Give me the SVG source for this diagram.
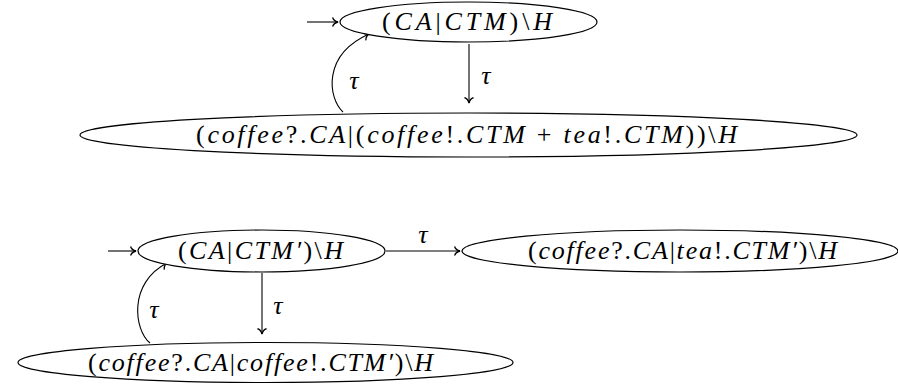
<svg xmlns="http://www.w3.org/2000/svg" width="898" height="385" viewBox="0 0 898 385">
<style>
.node ellipse{fill:#fff;stroke:#000;stroke-width:1.2}
.lbl{font-size:26px;fill:#000}
.i{font-style:italic}
.tau{font-size:26px;font-style:italic;fill:#000}
.edges path,.edges line{fill:none;stroke:#000;stroke-width:1.1}
</style>
<defs>
<marker id="to" markerUnits="userSpaceOnUse" markerWidth="12" markerHeight="12" viewBox="-6 -5 8 10" refX="0" refY="0" orient="auto">
<path d="M-4.5,-3.8 C-3.8,-1.6 -1.2,-0.3 0,0 C-1.2,0.3 -3.8,1.6 -4.5,3.8" fill="none" stroke="#000" stroke-width="1.1"/>
</marker>
</defs>
<g class="edges">
<line x1="307" y1="22" x2="338" y2="22" marker-end="url(#to)"/>
<line x1="469" y1="44" x2="469" y2="103" marker-end="url(#to)"/>
<path d="M343,112 C328,98 322,55 369,34" marker-end="url(#to)"/>
<line x1="108" y1="251" x2="136" y2="251" marker-end="url(#to)"/>
<line x1="386" y1="251" x2="460" y2="251" marker-end="url(#to)"/>
<line x1="262" y1="273" x2="262" y2="334" marker-end="url(#to)"/>
<path d="M150,343 C134,330 128,283 167,263" marker-end="url(#to)"/>
</g>
<g class="tau" font-family="'Liberation Serif', 'DejaVu Serif', serif">
<text x="486" y="84" text-anchor="middle">τ</text>
<text x="354" y="89" text-anchor="middle">τ</text>
<text x="423" y="243" text-anchor="middle">τ</text>
<text x="278" y="314" text-anchor="middle">τ</text>
<text x="154" y="318" text-anchor="middle">τ</text>
</g>
<g id="n1" class="node">
<ellipse cx="468.5" cy="22" rx="128.5" ry="20"/>
<text class="lbl" font-family="'Liberation Serif', 'DejaVu Serif', serif" x="382" y="30" textLength="170" lengthAdjust="spacing">(<tspan class="i">CA</tspan>|<tspan class="i">CTM</tspan>)\<tspan class="i">H</tspan></text>
</g>
<g id="n2" class="node">
<ellipse cx="468.5" cy="135" rx="388.5" ry="22"/>
<text class="lbl" font-family="'Liberation Serif', 'DejaVu Serif', serif" x="196" y="143" textLength="541" lengthAdjust="spacing">(<tspan class="i">coffee</tspan>?.<tspan class="i">CA</tspan>|(<tspan class="i">coffee</tspan>!.<tspan class="i">CTM</tspan> + <tspan class="i">tea</tspan>!.<tspan class="i">CTM</tspan>))\<tspan class="i">H</tspan></text>
</g>
<g id="n3" class="node">
<ellipse cx="261.5" cy="251" rx="123.5" ry="21"/>
<text class="lbl" font-family="'Liberation Serif', 'DejaVu Serif', serif" x="178" y="259" textLength="165" lengthAdjust="spacing">(<tspan class="i">CA</tspan>|<tspan class="i">CTM′</tspan>)\<tspan class="i">H</tspan></text>
</g>
<g id="n4" class="node">
<ellipse cx="680" cy="251" rx="218" ry="21"/>
<text class="lbl" font-family="'Liberation Serif', 'DejaVu Serif', serif" x="528" y="259" textLength="309" lengthAdjust="spacing">(<tspan class="i">coffee</tspan>?.<tspan class="i">CA</tspan>|<tspan class="i">tea</tspan>!.<tspan class="i">CTM′</tspan>)\<tspan class="i">H</tspan></text>
</g>
<g id="n5" class="node">
<ellipse cx="265.5" cy="362.5" rx="247.5" ry="20"/>
<text class="lbl" font-family="'Liberation Serif', 'DejaVu Serif', serif" x="88" y="371" textLength="345" lengthAdjust="spacing">(<tspan class="i">coffee</tspan>?.<tspan class="i">CA</tspan>|<tspan class="i">coffee</tspan>!.<tspan class="i">CTM′</tspan>)\<tspan class="i">H</tspan></text>
</g>
</svg>
